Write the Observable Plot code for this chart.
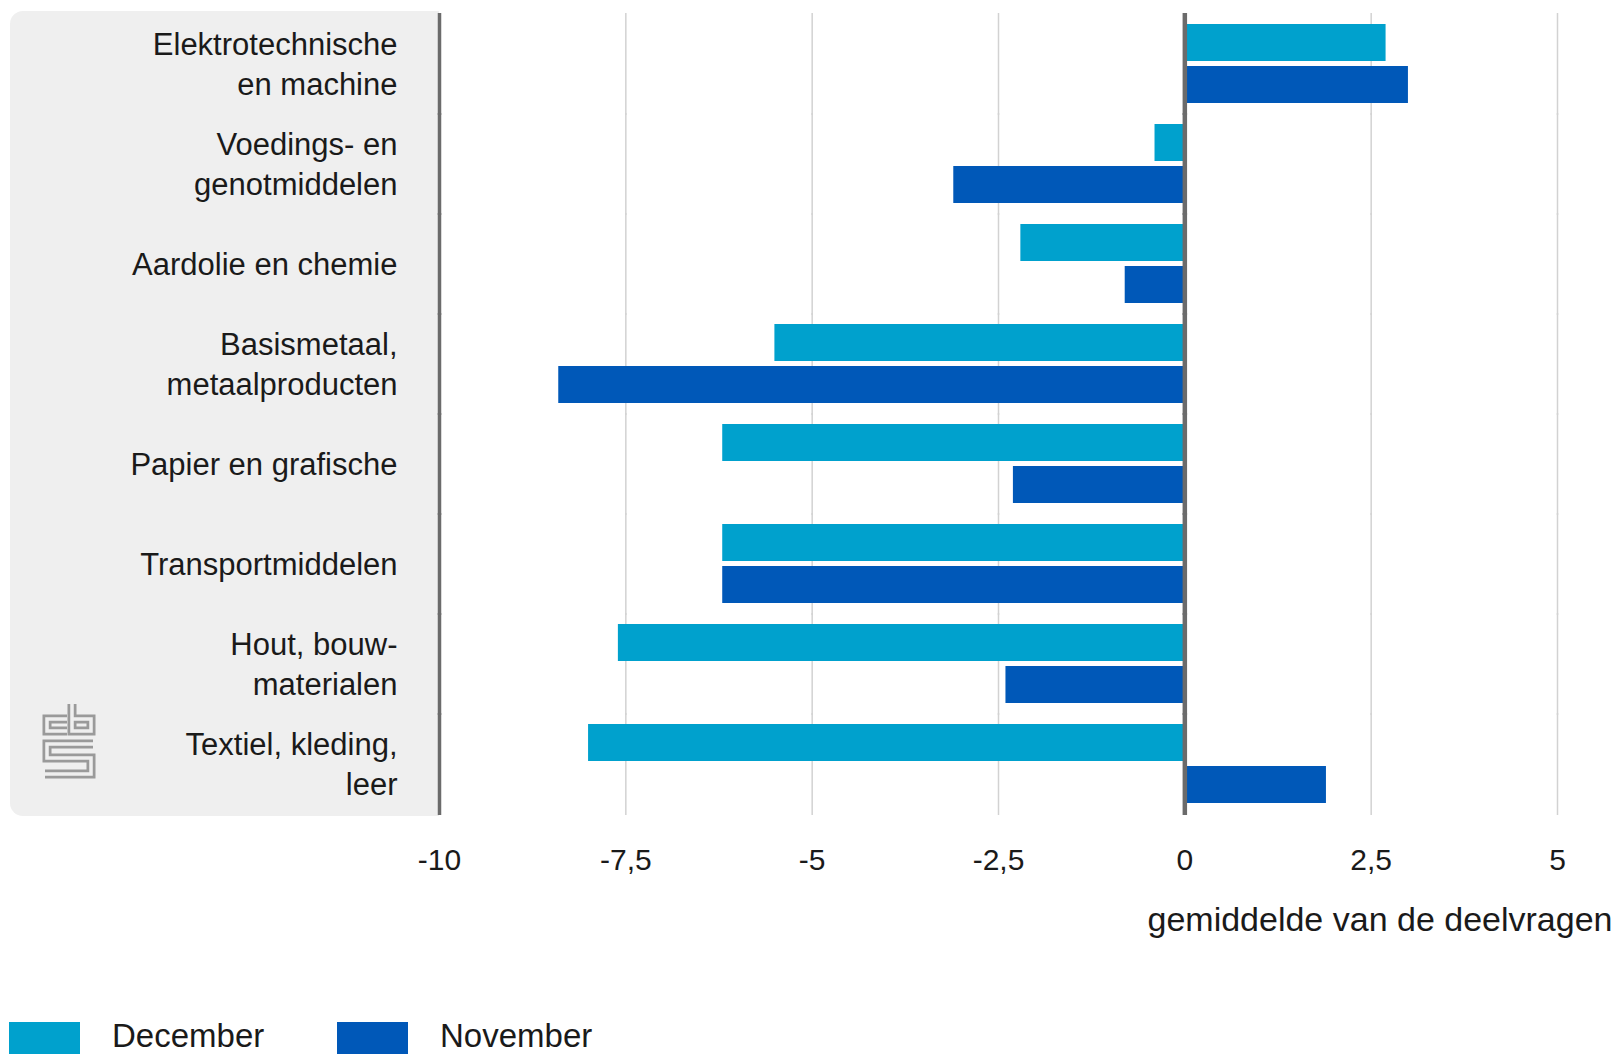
<!DOCTYPE html>
<html>
<head>
<meta charset="utf-8">
<script src="https://cdn.jsdelivr.net/npm/d3@7"></script>
<script src="https://cdn.jsdelivr.net/npm/@observablehq/plot@0.6"></script>
<style>
html, body { margin: 0; padding: 0; background: #fff; overflow: hidden; }
body { font-family: "Liberation Sans", Arial, sans-serif; color: #1a1a1a; }
#chart svg { display: block; }
#legend { display: flex; margin-top: 42px; height: 45px; }
.item { display: flex; align-items: flex-start; }
.sw { width: 71px; height: 40px; }
.lab { font-size: 33px; line-height: 1; margin-top: -3px; margin-left: 32px; }
</style>
</head>
<body>
<div id="chart"></div>
<div id="legend"></div>
<script>
const categories = [
  "Elektrotechnische\nen machine",
  "Voedings- en\ngenotmiddelen",
  "Aardolie en chemie",
  "Basismetaal,\nmetaalproducten",
  "Papier en grafische",
  "Transportmiddelen",
  "Hout, bouw-\nmaterialen",
  "Textiel, kleding,\nleer"
];
const december = [2.7, -0.4, -2.2, -5.5, -6.2, -6.2, -7.6, -8.0];
const november = [3.0, -3.1, -0.8, -8.4, -2.3, -6.2, -2.4, 1.9];
const series = ["December", "November"];
const colors = ["#00a1cd", "#0058b8"];
const xTicks = [-10, -7.5, -5, -2.5, 0, 2.5, 5];
const xLabel = "gemiddelde van de deelvragen";

(function () {
const data = categories.flatMap((c, i) => [
  {cat: c, series: "December", value: december[i]},
  {cat: c, series: "November", value: november[i]}
]);
const fmt = d => String(d).replace(".", ",");

const W = 1619, H = 980, plotBottom = 816;
const plot = Plot.plot({
  width: W,
  height: H,
  marginLeft: 439,
  marginRight: 62,
  marginTop: 12,
  marginBottom: H - plotBottom,
  style: {fontFamily: "'Liberation Sans', Arial, sans-serif", background: "transparent", color: "#1a1a1a"},
  x: {domain: [-10, 5], axis: null},
  y: {domain: series, paddingInner: 0.11, paddingOuter: 0, axis: null},
  fy: {domain: categories, paddingInner: 0.2, paddingOuter: 0.1, axis: null},
  color: {domain: series, range: colors},
  marks: [
    Plot.ruleX(xTicks.filter(t => t !== -10 && t !== 0), {stroke: "#d2d2d2", strokeWidth: 1.5, insetTop: -11, insetBottom: -11}),
    Plot.barX(data, {fy: "cat", y: "series", x: "value", fill: "series"}),
    Plot.ruleX([-10], {stroke: "#6b6b6b", strokeWidth: 3.5, insetTop: -11, insetBottom: -11}),
    Plot.ruleX([0], {stroke: "#6b6b6b", strokeWidth: 4.5, insetTop: -11, insetBottom: -11}),
    Plot.text(categories, {fy: d => d, text: d => d, frameAnchor: "left", textAnchor: "end", dx: -42, dy: -2, fontSize: 31, lineHeight: 1.27, fill: "#1a1a1a"}),
    Plot.axisX({ticks: xTicks, tickFormat: fmt, tickSize: 0, tickPadding: 44, fontSize: 30, label: null, fill: "#1a1a1a"}),
    Plot.text([xLabel], {fy: () => categories[categories.length - 1], x: () => 5, text: d => d, frameAnchor: "bottom", textAnchor: "end", lineAnchor: "middle", dx: 55, dy: 116, fontSize: 34, fill: "#1a1a1a"})
  ]
});
document.getElementById("chart").appendChild(plot);

// decorative panel + logo
const svg = d3.select(plot);
const xs = plot.scale("x");
const pl = 10, pr = xs.apply(-10), pt = 11, pb = plotBottom, r = 13;
const deco = svg.insert("g", ":first-child");
deco.append("path")
  .attr("d", `M${pr},${pt} H${pl + r} A${r},${r} 0 0 0 ${pl},${pt + r} V${pb - r} A${r},${r} 0 0 0 ${pl + r},${pb} H${pr} Z`)
  .attr("fill", "#efefef");
const logoPaths = [
  "M67,719 H47 V731 H67",
  "M72,704 V731 H91 V719 H72",
  "M93,744 H47 V758 H91 V774 H45"
];
logoPaths.forEach(p => {
  deco.append("path").attr("d", p).attr("fill", "none").attr("stroke", "#9a9a9a").attr("stroke-width", 9).attr("stroke-linejoin", "miter");
});
logoPaths.forEach(p => {
  deco.append("path").attr("d", p).attr("fill", "none").attr("stroke", "#efefef").attr("stroke-width", 3.5).attr("stroke-linejoin", "miter");
});

// legend
const legend = d3.select("#legend");
series.forEach((s, i) => {
  const item = legend.append("div").attr("class", "item")
    .style("margin-left", i === 0 ? "9px" : "0px")
    .style("width", i === 0 ? "328px" : "auto");
  item.append("div").attr("class", "sw").style("background", colors[i]);
  item.append("div").attr("class", "lab").text(s);
});
})();
</script>
</body>
</html>
